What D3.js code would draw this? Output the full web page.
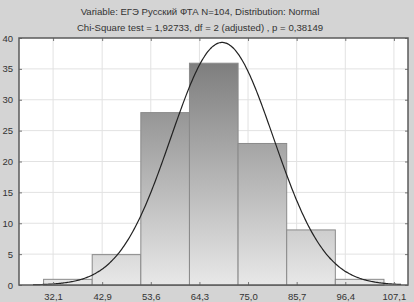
<!DOCTYPE html>
<html><head><meta charset="utf-8">
<script src="https://cdn.jsdelivr.net/npm/d3@7"></script>
<style>
html,body{margin:0;padding:0;background:#d4d4d4;}
svg{display:block;font-family:"Liberation Sans",Arial,sans-serif;}
</style></head>
<body>
<svg id="c" width="414" height="302"></svg>
<script>
const titleLines = ["Variable: ЕГЭ Русский ФТА N=104, Distribution: Normal",
                    "Chi-Square test = 1,92733, df = 2 (adjusted) , p = 0,38149"];
const binEdges = [29.9, 40.6, 51.3, 62.0, 72.7, 83.4, 94.1, 104.8];
const counts = [1, 5, 28, 36, 23, 9, 1];
const xTickValues = [32.1, 42.9, 53.6, 64.3, 75.0, 85.7, 96.4, 107.1];
const xTickLabels = ["32,1", "42,9", "53,6", "64,3", "75,0", "85,7", "96,4", "107,1"];
const yTickValues = [0, 5, 10, 15, 20, 25, 30, 35, 40];
const fitN = 104, fitMean = 69.3, fitSd = 11.3, fitBinWidth = 10.7;

const svg = d3.select("#c");
const L = 19, R = 408, T = 38, B = 285;
const x = d3.scaleLinear().domain([24.6, 110.2]).range([L, R]);
const y = d3.scaleLinear().domain([0, 40]).range([B, T]);

svg.append("rect").attr("x", L).attr("y", T).attr("width", R - L).attr("height", B - T).attr("fill", "#ffffff");

const defs = svg.append("defs");
const g = defs.append("linearGradient").attr("id", "bg").attr("gradientUnits", "userSpaceOnUse")
  .attr("x1", 0).attr("y1", T).attr("x2", 0).attr("y2", B);
g.append("stop").attr("offset", "0%").attr("stop-color", "#727272");
g.append("stop").attr("offset", "100%").attr("stop-color", "#e8e8e8");

// grid
svg.append("g").selectAll("line").data(yTickValues.slice(1, -1)).join("line")
  .attr("x1", L).attr("x2", R).attr("y1", d => y(d)).attr("y2", d => y(d))
  .attr("stroke", "#e2e2e2").attr("stroke-width", 1);
svg.append("g").selectAll("line").data(xTickValues).join("line")
  .attr("x1", d => x(d)).attr("x2", d => x(d)).attr("y1", T).attr("y2", B)
  .attr("stroke", "#e2e2e2").attr("stroke-width", 1);

// bars
const bars = counts.map((c, i) => ({x0: binEdges[i], x1: binEdges[i + 1], c}));
svg.append("g").selectAll("rect").data(bars).join("rect")
  .attr("x", d => x(d.x0) + 0.5).attr("y", d => y(d.c) + 0.5)
  .attr("width", d => x(d.x1) - x(d.x0)).attr("height", d => y(0) - y(d.c))
  .attr("fill", "url(#bg)").attr("stroke", "#8a8a8a").attr("stroke-width", 1);

// normal fit curve
const pts = d3.range(x.invert(L + 14), x.invert(R - 6), 0.25).map(v => [v,
  fitN * fitBinWidth / (fitSd * Math.sqrt(2 * Math.PI)) * Math.exp(-0.5 * ((v - fitMean) / fitSd) ** 2)]);
svg.append("path").datum(pts)
  .attr("d", d3.line().x(d => x(d[0])).y(d => y(d[1])).curve(d3.curveBasis))
  .attr("fill", "none").attr("stroke", "#222").attr("stroke-width", 1.2);

// axes
const yAx = svg.append("g").attr("transform", `translate(${L},0)`)
  .call(d3.axisLeft(y).tickValues(yTickValues).tickSize(-3).tickPadding(6));
const yAxR = svg.append("g").attr("transform", `translate(${R},0)`)
  .call(d3.axisRight(y).tickValues(yTickValues).tickSize(-3).tickFormat(""));
const xAx = svg.append("g").attr("transform", `translate(0,${B})`)
  .call(d3.axisBottom(x).tickValues(xTickValues).tickSize(-3).tickPadding(6)
    .tickFormat((d, i) => xTickLabels[i]));
const xAxT = svg.append("g").attr("transform", `translate(0,${T})`)
  .call(d3.axisTop(x).tickValues(xTickValues).tickSize(-3).tickFormat(""));
[yAx, yAxR, xAx, xAxT].forEach(a => {
  a.select(".domain").remove();
  a.selectAll(".tick line").attr("stroke", "#777");
  a.selectAll("text").attr("fill", "#333").style("font-size", "9.5px")
   .style("font-family", "'Liberation Sans',Arial,sans-serif");
});
xAx.selectAll("text").attr("dy", "0.95em");

// frame
svg.append("rect").attr("x", L).attr("y", T).attr("width", R - L).attr("height", B - T)
  .attr("fill", "none").attr("stroke", "#5a5a5a").attr("stroke-width", 1.5);

// title
svg.append("g").selectAll("text").data(titleLines).join("text")
  .attr("x", 200).attr("y", (d, i) => 15 + i * 16).attr("text-anchor", "middle")
  .attr("fill", "#333").style("font-size", "9.6px").text(d => d);
</script>
</body></html>
